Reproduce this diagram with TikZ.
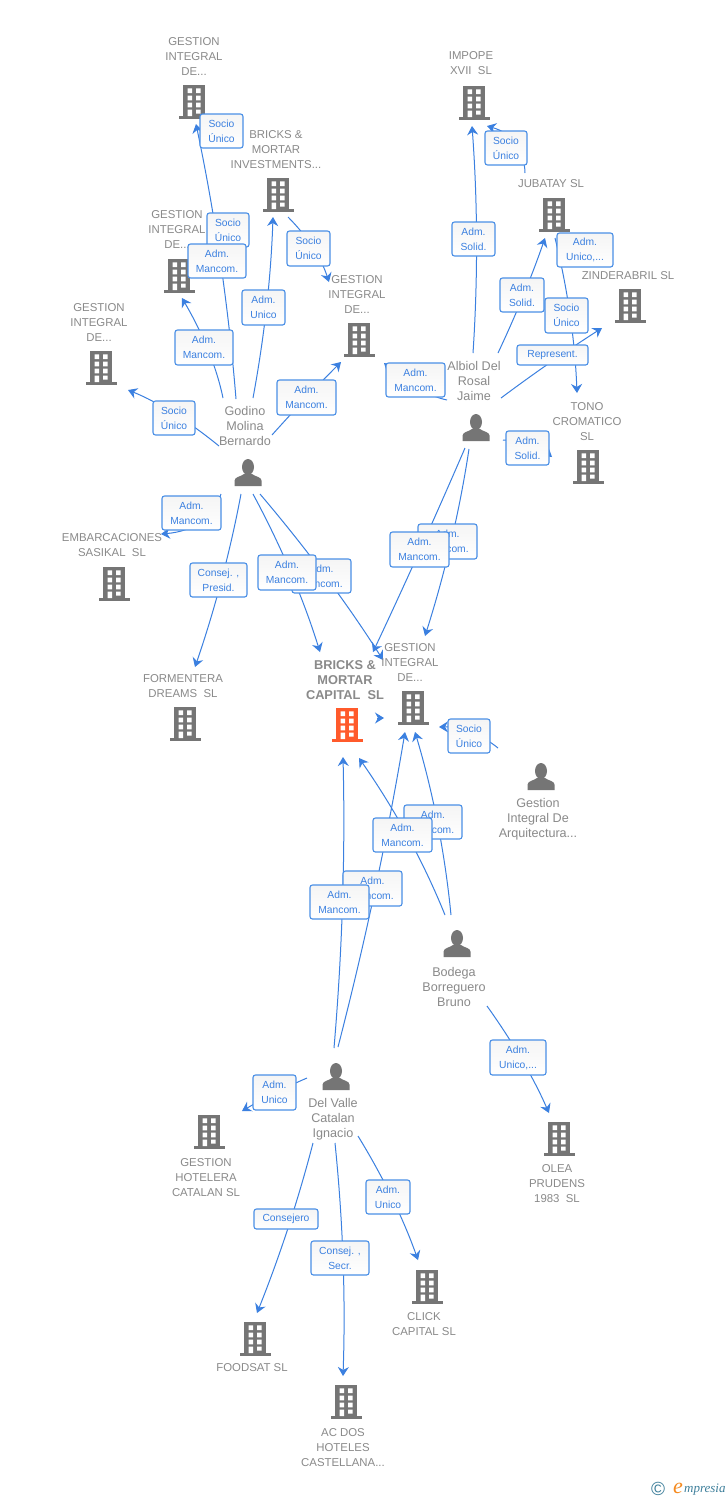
\documentclass[tikz,border=0pt]{standalone}
\usepackage{fontspec}
\setmainfont{Liberation Sans}
\newfontfamily\logofont{Liberation Serif}
\usetikzlibrary{arrows.meta,calc}
\definecolor{edgeblue}{HTML}{3B80E0}
\definecolor{boxblue}{HTML}{4A8FE6}
\definecolor{lblgray}{HTML}{8A8A8A}
\definecolor{icongray}{HTML}{757575}
\definecolor{iconred}{HTML}{FF5A2B}
\definecolor{logoteal}{HTML}{3E7F9B}
\definecolor{logoorange}{HTML}{F58A1F}
\tikzset{
  conn/.style={draw=edgeblue,line width=1pt,-{Stealth[length=9pt,width=11pt,inset=3pt]}},
  rolebox/.style={draw=boxblue,line width=1.1pt,rounded corners=2.5pt,top color=black!4,bottom color=white,text=edgeblue,
    align=center,inner sep=0pt,font=\fontsize{10.3}{15}\selectfont},
  namelbl/.style={text=lblgray,align=center,inner sep=0pt,font=\fontsize{11.4}{15}\selectfont},
  perslbl/.style={text=lblgray,align=center,inner sep=0pt,font=\fontsize{12.6}{15}\selectfont},
  iconbox/.style={inner sep=0pt,minimum width=31pt,minimum height=34pt},
  personbox/.style={inner sep=0pt,minimum width=27pt,minimum height=27pt},
  bldgicon/.pic={
    \fill (-11,0) rectangle (11,31);
    \fill (-15.5,31) rectangle (15.5,34);
    \fill[white] (-6.5,3.3) rectangle (-2,8) (2,3.3) rectangle (6.5,8)
      (-6.5,10.7) rectangle (-2,15.3) (2,10.7) rectangle (6.5,15.3)
      (-6.5,17.7) rectangle (-2,22.3) (2,17.7) rectangle (6.5,22.3)
      (-6.5,24.5) rectangle (-2,31) (2,24.5) rectangle (6.5,28.5);
  },
  personicon/.pic={
    \fill (0,8) ellipse [x radius=6,y radius=8];
    \fill (-13.5,27) -- (-13.5,21.5) .. controls (-13.5,18) and (-7,17.5) .. (-4,15)
      -- (4,15) .. controls (7,17.5) and (13.5,18) .. (13.5,21.5) -- (13.5,27) -- cycle;
  }
}
\newcommand{\bldg}[4][icongray]{\node[iconbox] (#2) at (#3,#4+17) {};
  \pic[#1,x=1pt,y=-1pt] at (#3,#4) {bldgicon};}
\newcommand{\pers}[3]{\node[personbox] (#1) at (#2,#3+13.5) {};
  \pic[icongray,x=1pt,y=-1pt] at (#2,#3) {personicon};}
% id, start, point half-way along the curve, end
\newcommand{\conn}[4]{\coordinate (#1-a) at (#2); \coordinate (#1-b) at (#4); \coordinate (#1-m) at (#3);
  \coordinate (#1-c) at ($2*(#1-m)-0.5*(#1-a)-0.5*(#1-b)$);
  \draw[conn] (#1-a) .. controls ($(#1-a)!0.6667!(#1-c)$) and ($(#1-b)!0.6667!(#1-c)$) .. (#1-b);}
\newcommand{\rolebox}[6]{\node[rolebox,minimum width=#4pt-#2pt,minimum height=#5pt-#3pt] (#1) at ({(#2+#4)/2},{(#3+#5)/2}) {#6};}
\newcommand{\nm}[5][namelbl]{\node[#1] (#2) at (#3,#4) {#5};}
\begin{document}
\begin{tikzpicture}[x=1pt,y=-1pt]
\useasboundingbox (0,0) rectangle (728,1500);
\fill[white] (0,0) rectangle (728,1500);

% connectors
\conn{god-g1}{236,399}{220.5,262}{196,124}
\conn{god-g2}{223,398}{208,350}{182,298}
\conn{god-bmi}{253,398}{266.5,307}{273,217}
\conn{bmi-g3}{288,217}{313,248}{329,282}
\conn{god-g3}{272,435}{306,398}{341,362}
\conn{god-g4}{219,446}{173,413}{128,390}
\conn{god-emb}{221,494}{200,522}{161,534}
\conn{god-form}{241,494}{221.5,580}{195,667}
\conn{god-bricks}{253,494}{291,573}{320,652}
\conn{god-gest}{260,494}{326,577}{383,660}
\conn{alb-bricks}{465,448}{420,550}{373,652}
\conn{alb-gest}{469,449}{451,542}{425,636}
\conn{alb-imp}{473,353}{476.5,240}{472,126}
\conn{alb-jub}{498,353}{523.5,295}{545,238}
\conn{jub-imp}{525,173}{515,143}{487,126}
\conn{alb-zin}{501,398}{551,362}{602,328}
\conn{jub-tono}{555,238}{570,315}{577,393}
\conn{alb-g3}{447,400}{418,388}{384,363}
\conn{alb-tono}{503,440}{530,445}{552,457}
\conn{arq-gest}{498,748}{470,732}{439,727}
\conn{bricks-gest}{377,718}{380,718}{384,718}
\conn{bod-bricks}{445,915}{407.5,836}{359,758}
\conn{bod-gest}{451,915}{437.5,823}{415,732}
\conn{del-bricks}{334,1048}{342.5,902}{343,757}
\conn{del-gest}{338,1047}{375,890}{405,732}
\conn{del-hot}{307,1078}{275,1093}{242,1111}
\conn{del-food}{313,1143}{288,1228}{257,1313}
\conn{del-ac}{335,1143}{343,1260}{343,1376}
\conn{del-click}{358,1136}{392,1198}{418,1260}
\conn{bod-olea}{487,1006}{522,1060}{549,1113}

% buildings
\bldg{g1}{194}{85}
\bldg{bmi}{278}{178}
\bldg{g2}{179}{259}
\bldg{g3}{359}{323}
\bldg{g4}{101}{351}
\bldg{imp}{474}{86}
\bldg{jub}{554}{198}
\bldg{zin}{630}{289}
\bldg{tono}{588}{450}
\bldg{emb}{114}{567}
\bldg{form}{185}{707}
\bldg[iconred]{bricks}{347}{708}
\bldg{gest}{413}{691}
\bldg{hot}{209}{1115}
\bldg{olea}{559}{1122}
\bldg{click}{427}{1270}
\bldg{food}{255}{1322}
\bldg{acdos}{346}{1385}
% persons
\pers{god}{248}{459}
\pers{alb}{476}{414}
\pers{arq}{541}{763}
\pers{bod}{457}{930}
\pers{del}{336}{1063}

% names
\nm{g1-t}{194}{56.5}{GESTION\\INTEGRAL\\DE...}
\nm{bmi-t}{276}{149.5}{BRICKS \&\\MORTAR\\INVESTMENTS...}
\nm{g2-t}{177}{230}{GESTION\\INTEGRAL\\DE...}
\nm{g3-t}{357}{294.5}{GESTION\\INTEGRAL\\DE...}
\nm{g4-t}{99}{322.5}{GESTION\\INTEGRAL\\DE...}
\nm{imp-t}{471}{63.5}{IMPOPE\\XVII\ \ SL}
\nm{jub-t}{551}{184}{JUBATAY SL}
\nm{zin-t}{628}{275.5}{ZINDERABRIL SL}
\nm{tono-t}{587}{421.5}{TONO\\CROMATICO\\SL}
\nm[perslbl]{alb-t}{474}{380.5}{Albiol Del\\Rosal\\Jaime}
\nm[perslbl]{god-t}{245}{425.5}{Godino\\Molina\\Bernardo}
\nm{emb-t}{112}{545}{EMBARCACIONES\\SASIKAL\ \ SL}
\nm{form-t}{183}{686}{FORMENTERA\\DREAMS\ \ SL}
\nm[namelbl,font=\fontsize{12.8}{15}\selectfont\bfseries]{bricks-t}{345}{680}{BRICKS \&\\MORTAR\\CAPITAL\ \ SL}
\nm{gest-t}{410}{662.5}{GESTION\\INTEGRAL\\DE...}
\nm[perslbl]{arq-t}{538}{819.5}{Gestion\\Integral De\\Arquitectura...}
\nm[perslbl]{bod-t}{454}{986.5}{Bodega\\Borreguero\\Bruno}
\nm[perslbl]{del-t}{333}{1119.5}{Del Valle\\Catalan\\Ignacio}
\nm{hot-t}{206}{1177.5}{GESTION\\HOTELERA\\CATALAN SL}
\nm{olea-t}{557}{1183.5}{OLEA\\PRUDENS\\1983\ \ SL}
\nm{click-t}{424}{1324}{CLICK\\CAPITAL SL}
\nm{food-t}{252}{1368}{FOODSAT SL}
\nm{acdos-t}{343}{1447.5}{AC DOS\\HOTELES\\CASTELLANA...}

% role boxes
\rolebox{r1}{200}{114}{243}{148}{Socio\\Único}
\rolebox{r2}{207}{213}{249}{247}{Socio\\Único}
\rolebox{r3}{188}{244}{246}{278}{Adm.\\Mancom.}
\rolebox{r4}{287}{231}{330}{266}{Socio\\Único}
\rolebox{r5}{242}{290}{285}{325}{Adm.\\Unico}
\rolebox{r6}{175}{330}{233}{365}{Adm.\\Mancom.}
\rolebox{r7}{277}{380}{336}{415}{Adm.\\Mancom.}
\rolebox{r8}{153}{401}{195}{435}{Socio\\Único}
\rolebox{r9}{162}{496}{221}{530}{Adm.\\Mancom.}
\rolebox{r10}{190}{563}{247}{597}{Consej. ,\\Presid.}
\rolebox{r11}{292}{559}{351}{593}{Adm.\\Mancom.}
\rolebox{r12}{258}{555}{316}{590}{Adm.\\Mancom.}
\rolebox{r13}{485}{131}{527}{165}{Socio\\Único}
\rolebox{r14}{452}{222}{495}{256}{Adm.\\Solid.}
\rolebox{r15}{500}{278}{544}{312}{Adm.\\Solid.}
\rolebox{r16}{557}{233}{613}{267}{Adm.\\Unico,...}
\rolebox{r17}{517}{345}{588}{365}{Represent.}
\rolebox{r18}{545}{298}{588}{333}{Socio\\Único}
\rolebox{r19}{386}{363}{445}{397}{Adm.\\Mancom.}
\rolebox{r20}{506}{431}{549}{465}{Adm.\\Solid.}
\rolebox{r21}{418}{524}{477}{559}{Adm.\\Mancom.}
\rolebox{r22}{390}{532}{449}{567}{Adm.\\Mancom.}
\rolebox{r23}{448}{719}{490}{753}{Socio\\Único}
\rolebox{r24}{404}{805}{462}{839}{Adm.\\Mancom.}
\rolebox{r25}{373}{818}{432}{852}{Adm.\\Mancom.}
\rolebox{r26}{343}{871}{402}{906}{Adm.\\Mancom.}
\rolebox{r27}{310}{885}{369}{919}{Adm.\\Mancom.}
\rolebox{r28}{490}{1040}{546}{1075}{Adm.\\Unico,...}
\rolebox{r29}{253}{1075}{296}{1110}{Adm.\\Unico}
\rolebox{r30}{366}{1180}{410}{1214}{Adm.\\Unico}
\rolebox{r31}{254}{1209}{318}{1229}{Consejero}
\rolebox{r32}{311}{1241}{369}{1275}{Consej. ,\\Secr.}

% logo
\node[inner sep=0pt,text=logoteal,font=\fontsize{19}{19}\selectfont] (logoc) at (658,1489) {©};
\node[inner sep=0pt,text=logoorange,font=\logofont\itshape\fontsize{22}{22}\selectfont] (logoe) at (678,1488) {e};
\node[inner sep=0pt,text=logoteal,font=\logofont\itshape\fontsize{13}{13}\selectfont,anchor=west] (logot) at (684,1490) {mpresia};
\end{tikzpicture}
\end{document}
